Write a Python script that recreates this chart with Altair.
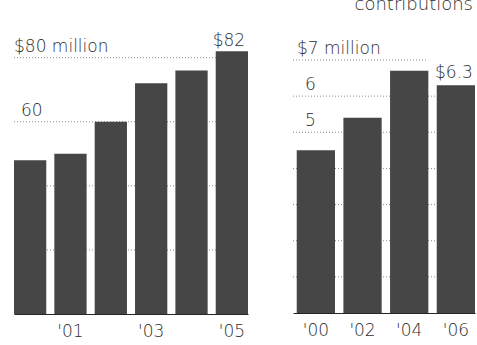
import altair as alt
import pandas as pd

# ---- data ----
left_years = ["'00", "'01", "'02", "'03", "'04", "'05"]
left_values = [48, 50, 60, 72, 76, 82]
left_shown = ["'01", "'03", "'05"]
left_grid = [20, 40, 60, 80]
left_labeled = [60, 80]

right_years = ["'00", "'02", "'04", "'06"]
right_values = [4.5, 5.4, 6.7, 6.3]
right_shown = ["'00", "'02", "'04", "'06"]
right_grid = [1, 2, 3, 4, 5, 6]
right_top_grid = [7]
right_labeled = [5, 6, 7]
title_text = ["contributions"]

# ---- style ----
FONT = "DejaVu Sans"
WEIGHT = 200
BAR = "#464646"
TXT = "#2e2e2e"
GRID = "#8c8c8c"
FS = 17


def tick_labels(vals):
    top = max(vals)
    return pd.DataFrame({
        "v": vals,
        "text": [f"${v} million" if v == top else str(v) for v in vals],
        "top": [v == top for v in vals],
    })


def xaxis(shown):
    return alt.Axis(title=None, values=shown, ticks=False, tickSize=0, labelPadding=22,
                    labelBaseline="alphabetic", labelAngle=0, domainColor="#262626",
                    domainWidth=1.2, labelFont=FONT, labelFontSize=FS, labelColor=TXT,
                    labelFontWeight=WEIGHT, grid=False, labelOverlap=False)


def panel(years, values, shown, grid, short_grid, labeled, width, height, ymax,
          pin, pout, align, other_x, top_x, ann_dx, ann_dy, title=None):
    df = pd.DataFrame({"year": years, "value": values})
    yscale = alt.Scale(domain=[0, ymax], nice=False, zero=True)
    xenc = alt.X("year:N", sort=years,
                 scale=alt.Scale(paddingInner=pin, paddingOuter=pout, align=align),
                 axis=xaxis(shown))
    rule_kw = dict(strokeDash=[1, 2], color=GRID, strokeWidth=1)
    layers = []
    layers.append(
        alt.Chart(pd.DataFrame({"v": grid})).mark_rule(**rule_kw).encode(
            y=alt.Y("v:Q", scale=yscale, axis=None),
            x=alt.value(0), x2=alt.value("width"))
    )
    if short_grid:
        layers.append(
            alt.Chart(pd.DataFrame({"v": short_grid})).mark_rule(**rule_kw).encode(
                y=alt.Y("v:Q", scale=yscale, axis=None),
                x=alt.value(0), x2=alt.value(width - 47))
        )
    layers.append(
        alt.Chart(df).mark_bar(color=BAR).encode(
            x=xenc, y=alt.Y("value:Q", scale=yscale, axis=None))
    )
    lab = tick_labels(labeled)
    txt_kw = dict(align="left", baseline="alphabetic", font=FONT, fontSize=FS,
                  fontWeight=WEIGHT, color=TXT, dy=-6)
    layers.append(
        alt.Chart(lab[lab["top"]]).mark_text(**txt_kw).encode(
            y=alt.Y("v:Q", scale=yscale, axis=None), x=alt.value(top_x), text="text:N")
    )
    layers.append(
        alt.Chart(lab[~lab["top"]]).mark_text(**txt_kw).encode(
            y=alt.Y("v:Q", scale=yscale, axis=None), x=alt.value(other_x), text="text:N")
    )
    last = years[-1]
    layers.append(
        alt.Chart(df).transform_filter(alt.datum.year == last)
        .transform_calculate(label="'$' + datum.value")
        .mark_text(align="center", baseline="alphabetic", font=FONT, fontSize=FS,
                   fontWeight=WEIGHT, color=TXT, dx=ann_dx, dy=ann_dy)
        .encode(x=xenc, y=alt.Y("value:Q", scale=yscale, axis=None), text="label:N")
    )
    if title:
        layers.append(
            alt.Chart(pd.DataFrame({"t": title})).mark_text(
                align="right", baseline="alphabetic", font=FONT, fontSize=18,
                fontWeight=WEIGHT, color=TXT, clip=True).encode(
                x=alt.value(width - 2), y=alt.value(10), text="t:N")
        )
    return alt.layer(*layers).properties(width=width, height=height)


left = panel(left_years, left_values, left_shown, left_grid, None, left_labeled,
             width=234, height=314, ymax=98, pin=0.2, pout=0, align=0.5,
             other_x=7, top_x=0, ann_dx=-3, ann_dy=-5)
right = panel(right_years, right_values, right_shown, right_grid, right_top_grid,
              right_labeled, width=182, height=313, ymax=8.66, pin=0.18, pout=0.04,
              align=1, other_x=12, top_x=4, ann_dx=-2, ann_dy=-7, title=title_text)

chart = alt.hconcat(left, right, spacing=45, bounds="flush").properties(
    padding={"left": 13, "top": 0, "right": 0, "bottom": 0},
    background="white",
).configure_view(stroke=None)

chart.save("out.html", embed_options={"renderer": "svg", "actions": False})
